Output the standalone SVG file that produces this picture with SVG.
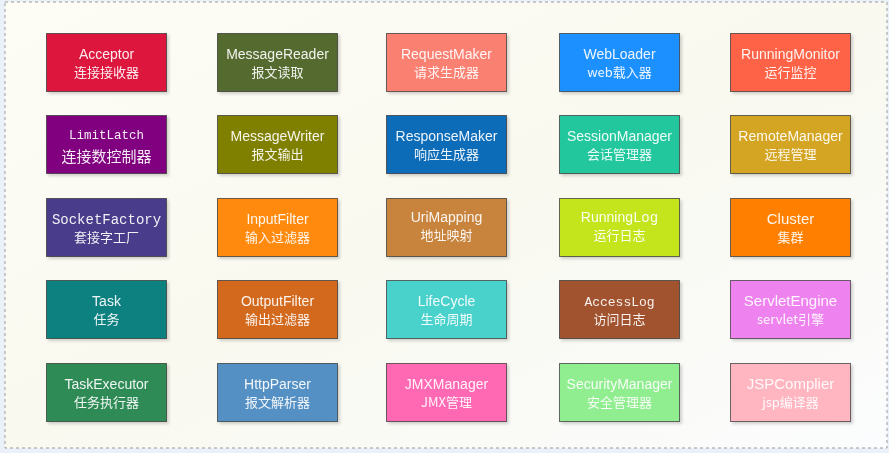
<svg xmlns="http://www.w3.org/2000/svg" width="889" height="453" viewBox="0 0 889 453">
<defs>
<style>
.box{stroke:#3a3a3a;stroke-opacity:0.75;stroke-width:1}
.t{font-family:"Liberation Sans","Noto Sans CJK SC",sans-serif;font-size:14px;fill:#fff;fill-opacity:0.92;text-anchor:middle}
.c{font-family:"Noto Sans CJK SC","Liberation Sans",sans-serif;font-size:13px;fill:#fff;fill-opacity:0.92;text-anchor:middle}
.m{font-family:"Liberation Mono","DejaVu Sans Mono",monospace}
</style>
<linearGradient id="bg" x1="0" y1="0" x2="1" y2="1">
<stop offset="0" stop-color="#fdfdf6"/>
<stop offset="0.5" stop-color="#f9f9f0"/>
<stop offset="1" stop-color="#fbfcfd"/>
</linearGradient>
<filter id="sh" x="-10%" y="-10%" width="125%" height="130%">
<feDropShadow dx="2" dy="2" stdDeviation="1.5" flood-color="#000" flood-opacity="0.18"/>
</filter>
</defs>
<rect x="0" y="0" width="889" height="453" fill="#eaf1f8"/>
<rect x="5" y="2" width="882" height="446" fill="url(#bg)" stroke="#9a9a9a" stroke-width="1" stroke-dasharray="3,3"/>
<g id="nodes" filter="url(#sh)">
<g id="acceptor"><rect class="box" x="46.5" y="33.5" width="120" height="58" fill="#DC143C"/><text class="t" x="106.5" y="59">Acceptor</text><text class="c" x="106.5" y="77">连接接收器</text></g>
<g id="messagereader"><rect class="box" x="217.5" y="33.5" width="120" height="58" fill="#556B2F"/><text class="t" x="277.5" y="59">MessageReader</text><text class="c" x="277.5" y="77">报文读取</text></g>
<g id="requestmaker"><rect class="box" x="386.5" y="33.5" width="120" height="58" fill="#FA8072"/><text class="t" x="446.5" y="59">RequestMaker</text><text class="c" x="446.5" y="77">请求生成器</text></g>
<g id="webloader"><rect class="box" x="559.5" y="33.5" width="120" height="58" fill="#1E90FF"/><text class="t" x="619.5" y="59">WebLoader</text><text class="c" x="619.5" y="77">web载入器</text></g>
<g id="runningmonitor"><rect class="box" x="730.5" y="33.5" width="120" height="58" fill="#FF6347"/><text class="t" x="790.5" y="59">RunningMonitor</text><text class="c" x="790.5" y="77">运行监控</text></g>

<g id="limitlatch"><rect class="box" x="46.5" y="115.5" width="120" height="58" fill="#800080"/><text class="t m" x="106.5" y="139" style="font-size:12.5px">LimitLatch</text><text class="c" x="106.5" y="162" style="font-size:15px">连接数控制器</text></g>
<g id="messagewriter"><rect class="box" x="217.5" y="115.5" width="120" height="58" fill="#808000"/><text class="t" x="277.5" y="141">MessageWriter</text><text class="c" x="277.5" y="159">报文输出</text></g>
<g id="responsemaker"><rect class="box" x="386.5" y="115.5" width="120" height="58" fill="#0E6CB8"/><text class="t" x="446.5" y="141">ResponseMaker</text><text class="c" x="446.5" y="159">响应生成器</text></g>
<g id="sessionmanager"><rect class="box" x="559.5" y="115.5" width="120" height="58" fill="#22C79E"/><text class="t" x="619.5" y="141">SessionManager</text><text class="c" x="619.5" y="159">会话管理器</text></g>
<g id="remotemanager"><rect class="box" x="730.5" y="115.5" width="120" height="58" fill="#D4A520"/><text class="t" x="790.5" y="141">RemoteManager</text><text class="c" x="790.5" y="159">远程管理</text></g>

<g id="socketfactory"><rect class="box" x="46.5" y="198.5" width="120" height="58" fill="#483D8B"/><text class="t m" x="106.5" y="224" style="font-size:14px">SocketFactory</text><text class="c" x="106.5" y="242">套接字工厂</text></g>
<g id="inputfilter"><rect class="box" x="217.5" y="198.5" width="120" height="58" fill="#FF8A0C"/><text class="t" x="277.5" y="224">InputFilter</text><text class="c" x="277.5" y="242">输入过滤器</text></g>
<g id="urimapping"><rect class="box" x="386.5" y="198.5" width="120" height="58" fill="#C8843E"/><text class="t" x="446.5" y="222">UriMapping</text><text class="c" x="446.5" y="240">地址映射</text></g>
<g id="runninglog"><rect class="box" x="559.5" y="198.5" width="120" height="58" fill="#C4E41E"/><text class="t" x="619.5" y="222">Running<tspan class="m" style="font-size:14px">Log</tspan></text><text class="c" x="619.5" y="240">运行日志</text></g>
<g id="cluster"><rect class="box" x="730.5" y="198.5" width="120" height="58" fill="#FF8000"/><text class="t" x="790.5" y="224" style="font-size:15px">Cluster</text><text class="c" x="790.5" y="242">集群</text></g>

<g id="task"><rect class="box" x="46.5" y="280.5" width="120" height="58" fill="#0F8080"/><text class="t" x="106.5" y="306">Task</text><text class="c" x="106.5" y="324">任务</text></g>
<g id="outputfilter"><rect class="box" x="217.5" y="280.5" width="120" height="58" fill="#D2691E"/><text class="t" x="277.5" y="306">OutputFilter</text><text class="c" x="277.5" y="324">输出过滤器</text></g>
<g id="lifecycle"><rect class="box" x="386.5" y="280.5" width="120" height="58" fill="#48D1CC"/><text class="t" x="446.5" y="306">LifeCycle</text><text class="c" x="446.5" y="324">生命周期</text></g>
<g id="accesslog"><rect class="box" x="559.5" y="280.5" width="120" height="58" fill="#A0522D"/><text class="t m" x="619.5" y="306" style="font-size:13px">AccessLog</text><text class="c" x="619.5" y="324">访问日志</text></g>
<g id="servletengine"><rect class="box" x="730.5" y="280.5" width="120" height="58" fill="#EE82EE"/><text class="t" x="790.5" y="306" style="font-size:15px">ServletEngine</text><text class="c" x="790.5" y="324">servlet引擎</text></g>

<g id="taskexecutor"><rect class="box" x="46.5" y="363.5" width="120" height="58" fill="#2E8B57"/><text class="t" x="106.5" y="389">TaskExecutor</text><text class="c" x="106.5" y="407">任务执行器</text></g>
<g id="httpparser"><rect class="box" x="217.5" y="363.5" width="120" height="58" fill="#5590C4"/><text class="t" x="277.5" y="389">HttpParser</text><text class="c" x="277.5" y="407">报文解析器</text></g>
<g id="jmxmanager"><rect class="box" x="386.5" y="363.5" width="120" height="58" fill="#FF69B4"/><text class="t" x="446.5" y="389">JMXManager</text><text class="c" x="446.5" y="407">JMX管理</text></g>
<g id="securitymanager"><rect class="box" x="559.5" y="363.5" width="120" height="58" fill="#90EE90"/><text class="t" x="619.5" y="389">SecurityManager</text><text class="c" x="619.5" y="407">安全管理器</text></g>
<g id="jspcomplier"><rect class="box" x="730.5" y="363.5" width="120" height="58" fill="#FFB6C1"/><text class="t" x="790.5" y="389" style="font-size:15px">JSPComplier</text><text class="c" x="790.5" y="407">jsp编译器</text></g>
</g>
<g id="connectors"></g>
</svg>
